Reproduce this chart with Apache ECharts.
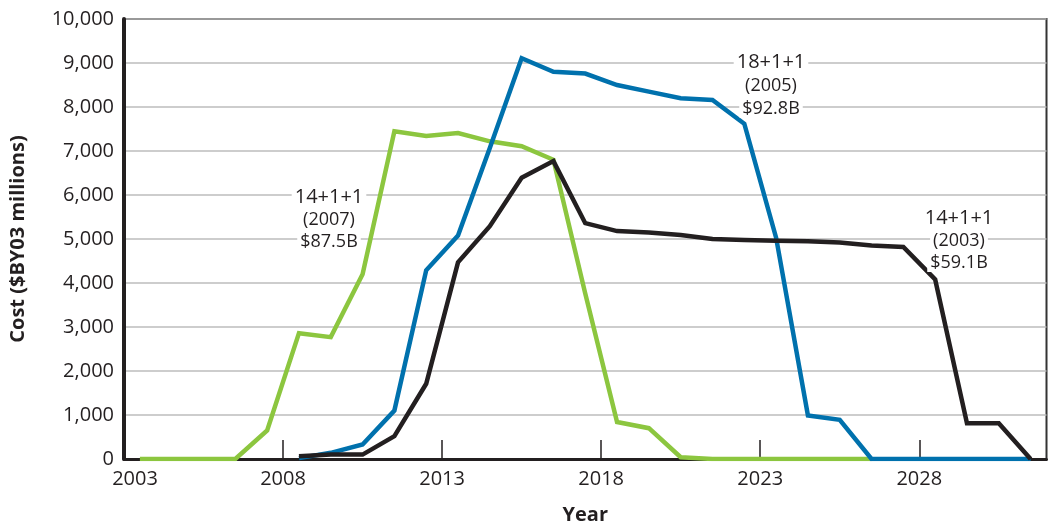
<!DOCTYPE html>
<html>
<head>
<meta charset="utf-8">
<script src="https://cdn.jsdelivr.net/npm/echarts@6/dist/echarts.min.js"></script>
<style>
html,body{margin:0;padding:0;background:#fff;}
#chart{width:1048px;height:530px;}
</style>
</head>
<body>
<div id="chart"></div>
<script>
// Fiscal years (points plotted at the middle of each year band)
const years = [2003,2004,2005,2006,2007,2008,2009,2010,2011,2012,2013,2014,2015,2016,2017,2018,2019,2020,2021,2022,2023,2024,2025,2026,2027,2028,2029,2030,2031];
// 14+1+1 (2007) $87.5B
const plan2007 = [0,0,0,0,650,2860,2770,4200,7450,7340,7410,7220,7110,6800,3760,840,700,40,0,0,0,0,0,0,null,null,null,null,null];
// 18+1+1 (2005) $92.8B
const plan2005 = [null,null,null,null,null,20,140,330,1100,4290,5080,7070,9110,8800,8760,8500,8350,8200,8160,7620,5030,990,890,0,0,0,0,0,0];
// 14+1+1 (2003) $59.1B
const plan2003 = [null,null,null,null,null,60,100,100,520,1710,4470,5290,6390,6770,5360,5180,5150,5090,5000,4980,4960,4950,4920,4850,4820,4080,810,810,0];
// Axis settings
const xTickStart = 2003, xTickEnd = 2032, xTickStep = 5;
const yMax = 10000, yStep = 1000;

const FONT = '"Open Sans", "Liberation Sans", sans-serif';
const INK = '#231f20';

const chart = echarts.init(document.getElementById('chart'), null, {renderer:'canvas'});

function fmtThousands(v){ return String(v).replace(/\B(?=(\d{3})+(?!\d))/g, ','); }

function noteLines(cx, lines){
  return lines.map((t, i) => ({
    type: 'text',
    x: cx,
    y: t.y,
    z: 100,
    style: {
      text: t.text,
      font: (i === 0 ? '20px ' : '18px ') + FONT,
      fill: INK,
      align: 'center',
      verticalAlign: 'middle',
      backgroundColor: '#fff',
      padding: [0, 3]
    }
  }));
}

const option = {
  animation: false,
  backgroundColor: '#fff',
  grid: {left: 123.5, right: 1.5, top: 19, bottom: 64.5, show: true, borderColor: '#333', borderWidth: 2, containLabel: false},
  xAxis: [
    {
      type: 'category',
      data: years.map(String),
      boundaryGap: true,
      position: 'bottom',
      axisLine: {show: false},
      axisTick: {show: false},
      axisLabel: {show: false},
      splitLine: {show: false}
    },
    {
      type: 'value',
      position: 'bottom',
      min: xTickStart,
      max: xTickEnd,
      interval: xTickStep,
      name: 'Year',
      nameLocation: 'middle',
      nameGap: 46,
      nameTextStyle: {fontFamily: FONT, fontSize: 20, fontWeight: 'bold', color: INK},
      axisLine: {show: true, lineStyle: {color: INK, width: 3}},
      axisTick: {show: true, inside: true, length: 19, lineStyle: {color: INK, width: 1.5}},
      axisLabel: {
        margin: 10,
        fontFamily: FONT, fontSize: 20, color: INK,
        showMaxLabel: false,
        formatter: function(v){
          if (v === xTickEnd) return '';
          if (v === xTickStart) return '{first|' + v + '}';
          return String(v);
        },
        rich: {first: {fontFamily: FONT, fontSize: 20, color: INK, padding: [0,0,0,22]}}
      },
      splitLine: {show: false}
    }
  ],
  yAxis: {
    type: 'value',
    min: 0,
    max: yMax,
    interval: yStep,
    name: 'Cost ($BY03 millions)',
    nameLocation: 'middle',
    nameGap: 96,
    nameRotate: 90,
    nameTextStyle: {fontFamily: FONT, fontSize: 20, fontWeight: 'bold', color: INK},
    axisLine: {show: true, lineStyle: {color: INK, width: 4}},
    axisTick: {show: false},
    axisLabel: {margin: 10, fontFamily: FONT, fontSize: 20, color: INK, formatter: fmtThousands},
    splitLine: {show: true, lineStyle: {color: '#bcbcbc', width: 1.5}}
  },
  series: [
    {name: '14+1+1 (2007)', type: 'line', xAxisIndex: 0, data: plan2007, symbol: 'none',
     lineStyle: {color: '#8cc63f', width: 4.5, join: 'miter'}, z: 3},
    {name: '18+1+1 (2005)', type: 'line', xAxisIndex: 0, data: plan2005, symbol: 'none',
     lineStyle: {color: '#0071ad', width: 4.5, join: 'miter'}, z: 4},
    {name: '14+1+1 (2003)', type: 'line', xAxisIndex: 0, data: plan2003, symbol: 'none',
     lineStyle: {color: INK, width: 4.5, join: 'miter'}, z: 5}
  ],
  graphic: [].concat(
    noteLines(329, [{text:'14+1+1', y:197}, {text:'(2007)', y:219.5}, {text:'$87.5B', y:242}]),
    noteLines(771, [{text:'18+1+1', y:62}, {text:'(2005)', y:86}, {text:'$92.8B', y:108.5}]),
    noteLines(959, [{text:'14+1+1', y:218}, {text:'(2003)', y:240.5}, {text:'$59.1B', y:263}])
  )
};
chart.setOption(option);
</script>
</body>
</html>
